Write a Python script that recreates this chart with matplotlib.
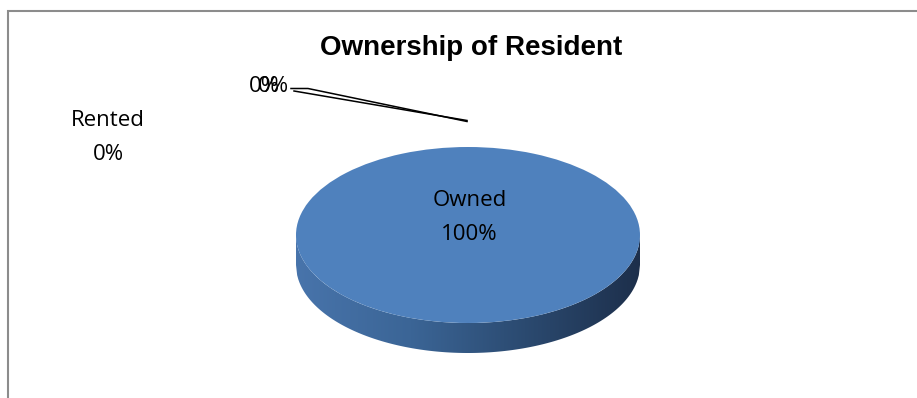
import numpy as np
import matplotlib
matplotlib.use("Agg")
import matplotlib.pyplot as plt
from matplotlib.patches import Rectangle, Polygon
from matplotlib.colors import LinearSegmentedColormap

# ---- data ----
title = "Ownership of Resident"
categories = ["Owned", "Rented"]
values = [100, 0]
extra_zero_labels = ["0%", "0%"]

W, H = 917, 398
fig = plt.figure(figsize=(W / 100, H / 100), dpi=100)
fig.patch.set_facecolor("white")

def fx(px):
    return px / W

def fy(py):
    return 1 - py / H

# chart border
fig.add_artist(Rectangle((fx(8), fy(420)), fx(940 - 8), (420 - 11) / H,
                         transform=fig.transFigure, fill=False,
                         edgecolor="#8c8c8c", linewidth=1.5))

# pie axes
left_px, right_px, top_px, bot_px = 296, 640, 147, 353
ax = fig.add_axes([fx(left_px), fy(bot_px), fx(right_px - left_px), (bot_px - top_px) / H])
ax.set_aspect("auto")
ax.axis("off")
ry_px = 88
depth = 30 / ry_px
ax.set_xlim(-1, 1)
ax.set_ylim(-1 - depth, 1)

# side of the 3D pie with horizontal gradient
xs = np.linspace(-1, 1, 300)
top_edge = -np.sqrt(np.clip(1 - xs ** 2, 0, None))
bot_edge = top_edge - depth
verts = np.concatenate([np.column_stack([xs, top_edge]),
                        np.column_stack([xs[::-1], bot_edge[::-1]])])
side = Polygon(verts, closed=True, facecolor="none", edgecolor="none")
ax.add_patch(side)
cmap = LinearSegmentedColormap.from_list("side", ["#4874ab", "#3b6596", "#2b4a70", "#1d2f4b"])
grad = np.linspace(0, 1, 256).reshape(1, -1)
im = ax.imshow(grad, cmap=cmap, extent=[-1, 1, -1 - depth, 0], aspect="auto", zorder=1)
im.set_clip_path(side)

# top surface
wedges, _ = ax.pie(values, colors=["#4f81bd", "#c0504d"], startangle=90,
                   counterclock=False, radius=1, center=(0, 0), frame=False)
for w in wedges:
    w.set_zorder(2)
ax.set_xlim(-1, 1)
ax.set_ylim(-1 - depth, 1)
ax.set_aspect("auto")

total = sum(values)
lab_font = dict(family=["Open Sans", "DejaVu Sans"], fontsize=16, color="black")

# Owned label
ax.text(0.01, 0.2, f"{categories[0]}\n{values[0] / total * 100:.0f}%", ha="center", va="center",
        linespacing=1.8, zorder=5, **lab_font)

# Rented label
fig.text(fx(108), fy(137.5), f"{categories[1]}\n{values[1] / total * 100:.0f}%", ha="center", va="center",
         linespacing=1.8, **lab_font)

# overlapping 0% labels
for i, lab in enumerate(extra_zero_labels):
    fig.text(fx(264 + 9 * i), fy(87), lab, ha="center", va="center", **lab_font)

# leader lines
fig.add_artist(plt.Line2D([fx(291), fx(308), fx(467)], [fy(88.5), fy(88.5), fy(121.5)],
                          transform=fig.transFigure, color="black", linewidth=1.1))
fig.add_artist(plt.Line2D([fx(294), fx(467)], [fy(91), fy(120.5)],
                          transform=fig.transFigure, color="black", linewidth=1.1))

# title
fig.text(fx(471), fy(48), title, ha="center", va="center", fontsize=20, fontweight="bold",
         family=["Liberation Sans", "DejaVu Sans"])

fig.savefig("out.png", dpi=100, facecolor="white")
